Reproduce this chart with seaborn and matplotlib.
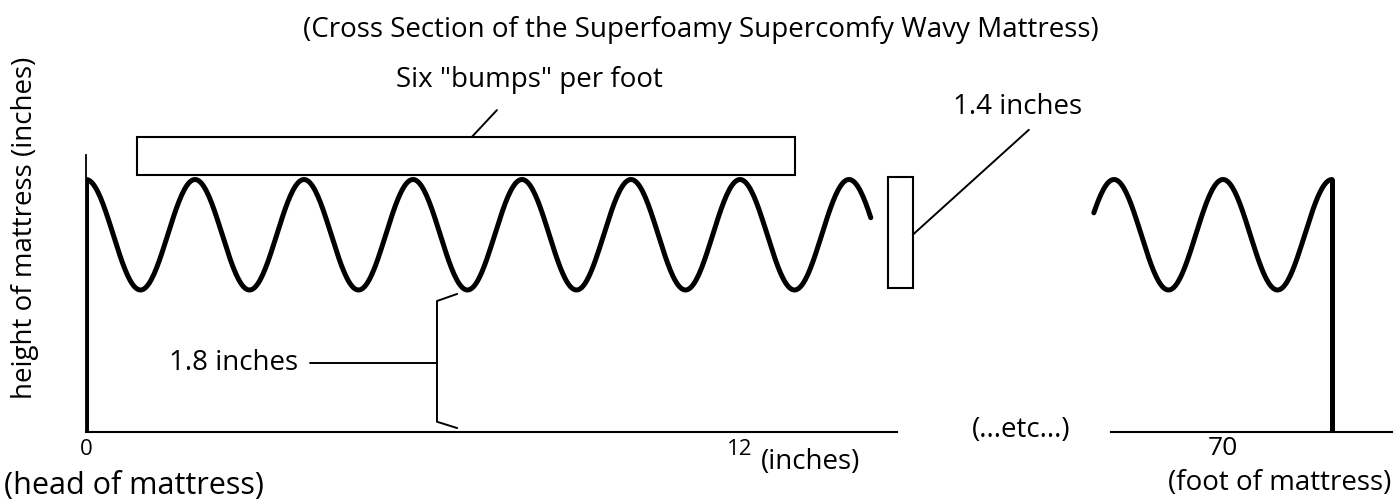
import numpy as np
import matplotlib.pyplot as plt
import seaborn as sns
from matplotlib.patches import Rectangle

# mattress profile (inches)
bumps_per_foot = 6
trough_height = 1.8          # base to bottom of a bump
bump_depth = 1.4             # bottom of a bump to top
mattress_length = 72
left_span = [0, 14.4]        # drawn piece at the head
right_span = [67.63, 72]     # drawn piece at the foot
left_ticks = [0, 12]
right_ticks = [70]

period = 12 / bumps_per_foot
mid = trough_height + bump_depth / 2
peak = trough_height + bump_depth


def profile(x):
    return mid + bump_depth / 2 * np.cos(2 * np.pi * x / period)


sns.set_style("white")
plt.rcParams['font.family'] = ['Open Sans', 'DejaVu Sans']
plt.rcParams['text.color'] = 'black'
plt.rcParams['xtick.color'] = 'black'

W, H = 1399, 500
fig = plt.figure(figsize=(W / 100, H / 100), dpi=100)

pxx = 54.5   # pixels per inch, horizontal
pxy = 78.9   # pixels per inch, vertical
base_y = 432
ytop = 3.6

ax1 = fig.add_axes([86 / W, (H - base_y) / H, 15.3 * pxx / W, ytop * pxy / H])
ax2 = fig.add_axes([(1223 - 3 * pxx) / W, (H - base_y) / H, 6.2 * pxx / W, ytop * pxy / H])
ax1.set_xlim(0, 15.3)
ax2.set_xlim(67, 73.2)

lw = 3.6
x1 = np.linspace(left_span[0], left_span[1], 600)
x2 = np.linspace(right_span[0], right_span[1], 200)
sns.lineplot(x=x1, y=profile(x1), ax=ax1, color='black', linewidth=lw)
sns.lineplot(x=x2, y=profile(x2), ax=ax2, color='black', linewidth=lw)
# head and foot ends
sns.lineplot(x=[0, 0], y=[0, peak], ax=ax1, color='black', linewidth=lw,
             estimator=None, sort=False)
sns.lineplot(x=[mattress_length] * 2, y=[0, peak], ax=ax2, color='black',
             linewidth=lw, estimator=None, sort=False)

for ax in (ax1, ax2):
    ax.set_ylim(0, ytop)
    ax.set_yticks([])
    ax.set_xlabel('')
    ax.set_ylabel('')
    ax.patch.set_alpha(0)
    for s in ('top', 'right'):
        ax.spines[s].set_visible(False)
    ax.spines['bottom'].set_linewidth(1.5)
    ax.spines['bottom'].set_color('black')
    ax.tick_params(axis='x', direction='in', length=4, width=1.4, color='black',
                   labelcolor='black', pad=5)

ax1.tick_params(axis='x', labelsize=16)
ax2.tick_params(axis='x', labelsize=19, pad=3)
ax1.spines['left'].set_linewidth(1.3)
ax1.spines['left'].set_color('black')
ax1.spines['left'].set_bounds(0, 3.51)
ax1.spines['bottom'].set_bounds(0, 14.88)
ax2.spines['left'].set_visible(False)
ax2.spines['bottom'].set_bounds(67.95, 73.1)
ax1.set_xticks(left_ticks)
ax2.set_xticks(right_ticks)

fs = 20
# "Six bumps per foot" box
ax1.add_patch(Rectangle((0.94, 3.26), 12.06, 0.48, fill=False, lw=1.5,
                        ec='black', clip_on=False))
ax1.plot([7.08, 7.54], [3.74, 4.08], color='black', lw=1.4, clip_on=False)
ax1.text(8.13, 4.46, 'Six "bumps" per foot', ha='center', va='center', fontsize=fs)

# bump depth box
ax1.add_patch(Rectangle((14.72, 1.83), 0.45, bump_depth, fill=False, lw=1.5,
                        ec='black', clip_on=False))
ax1.plot([15.17, 17.3], [2.5, 3.83], color='black', lw=1.4, clip_on=False)
ax1.text(17.1, 4.12, f'{bump_depth} inches', ha='center', va='center', fontsize=fs)

# trough height brace
ax1.plot([6.81, 6.44, 6.44, 6.81], [1.75, 1.66, 0.13, 0.05], color='black',
         lw=1.4, clip_on=False)
ax1.plot([4.11, 6.44], [0.87, 0.87], color='black', lw=1.4)
ax1.text(3.89, 0.87, f'{trough_height} inches', ha='right', va='center', fontsize=fs)


def ftext(x, y, s, size=fs, **kw):
    fig.text(x / W, 1 - y / H, s, fontsize=size, ha='center', va='center', **kw)


ftext(701, 30, '(Cross Section of the Superfoamy Supercomfy Wavy Mattress)')
ftext(1021, 430, '(...etc...)')
ftext(811, 462, '(inches)')
ftext(134, 486, '(head of mattress)', size=22)
ftext(1280, 483, '(foot of mattress)')
ftext(25, 228, 'height of mattress (inches)', rotation=90)

fig.savefig('out.png', dpi=100)
